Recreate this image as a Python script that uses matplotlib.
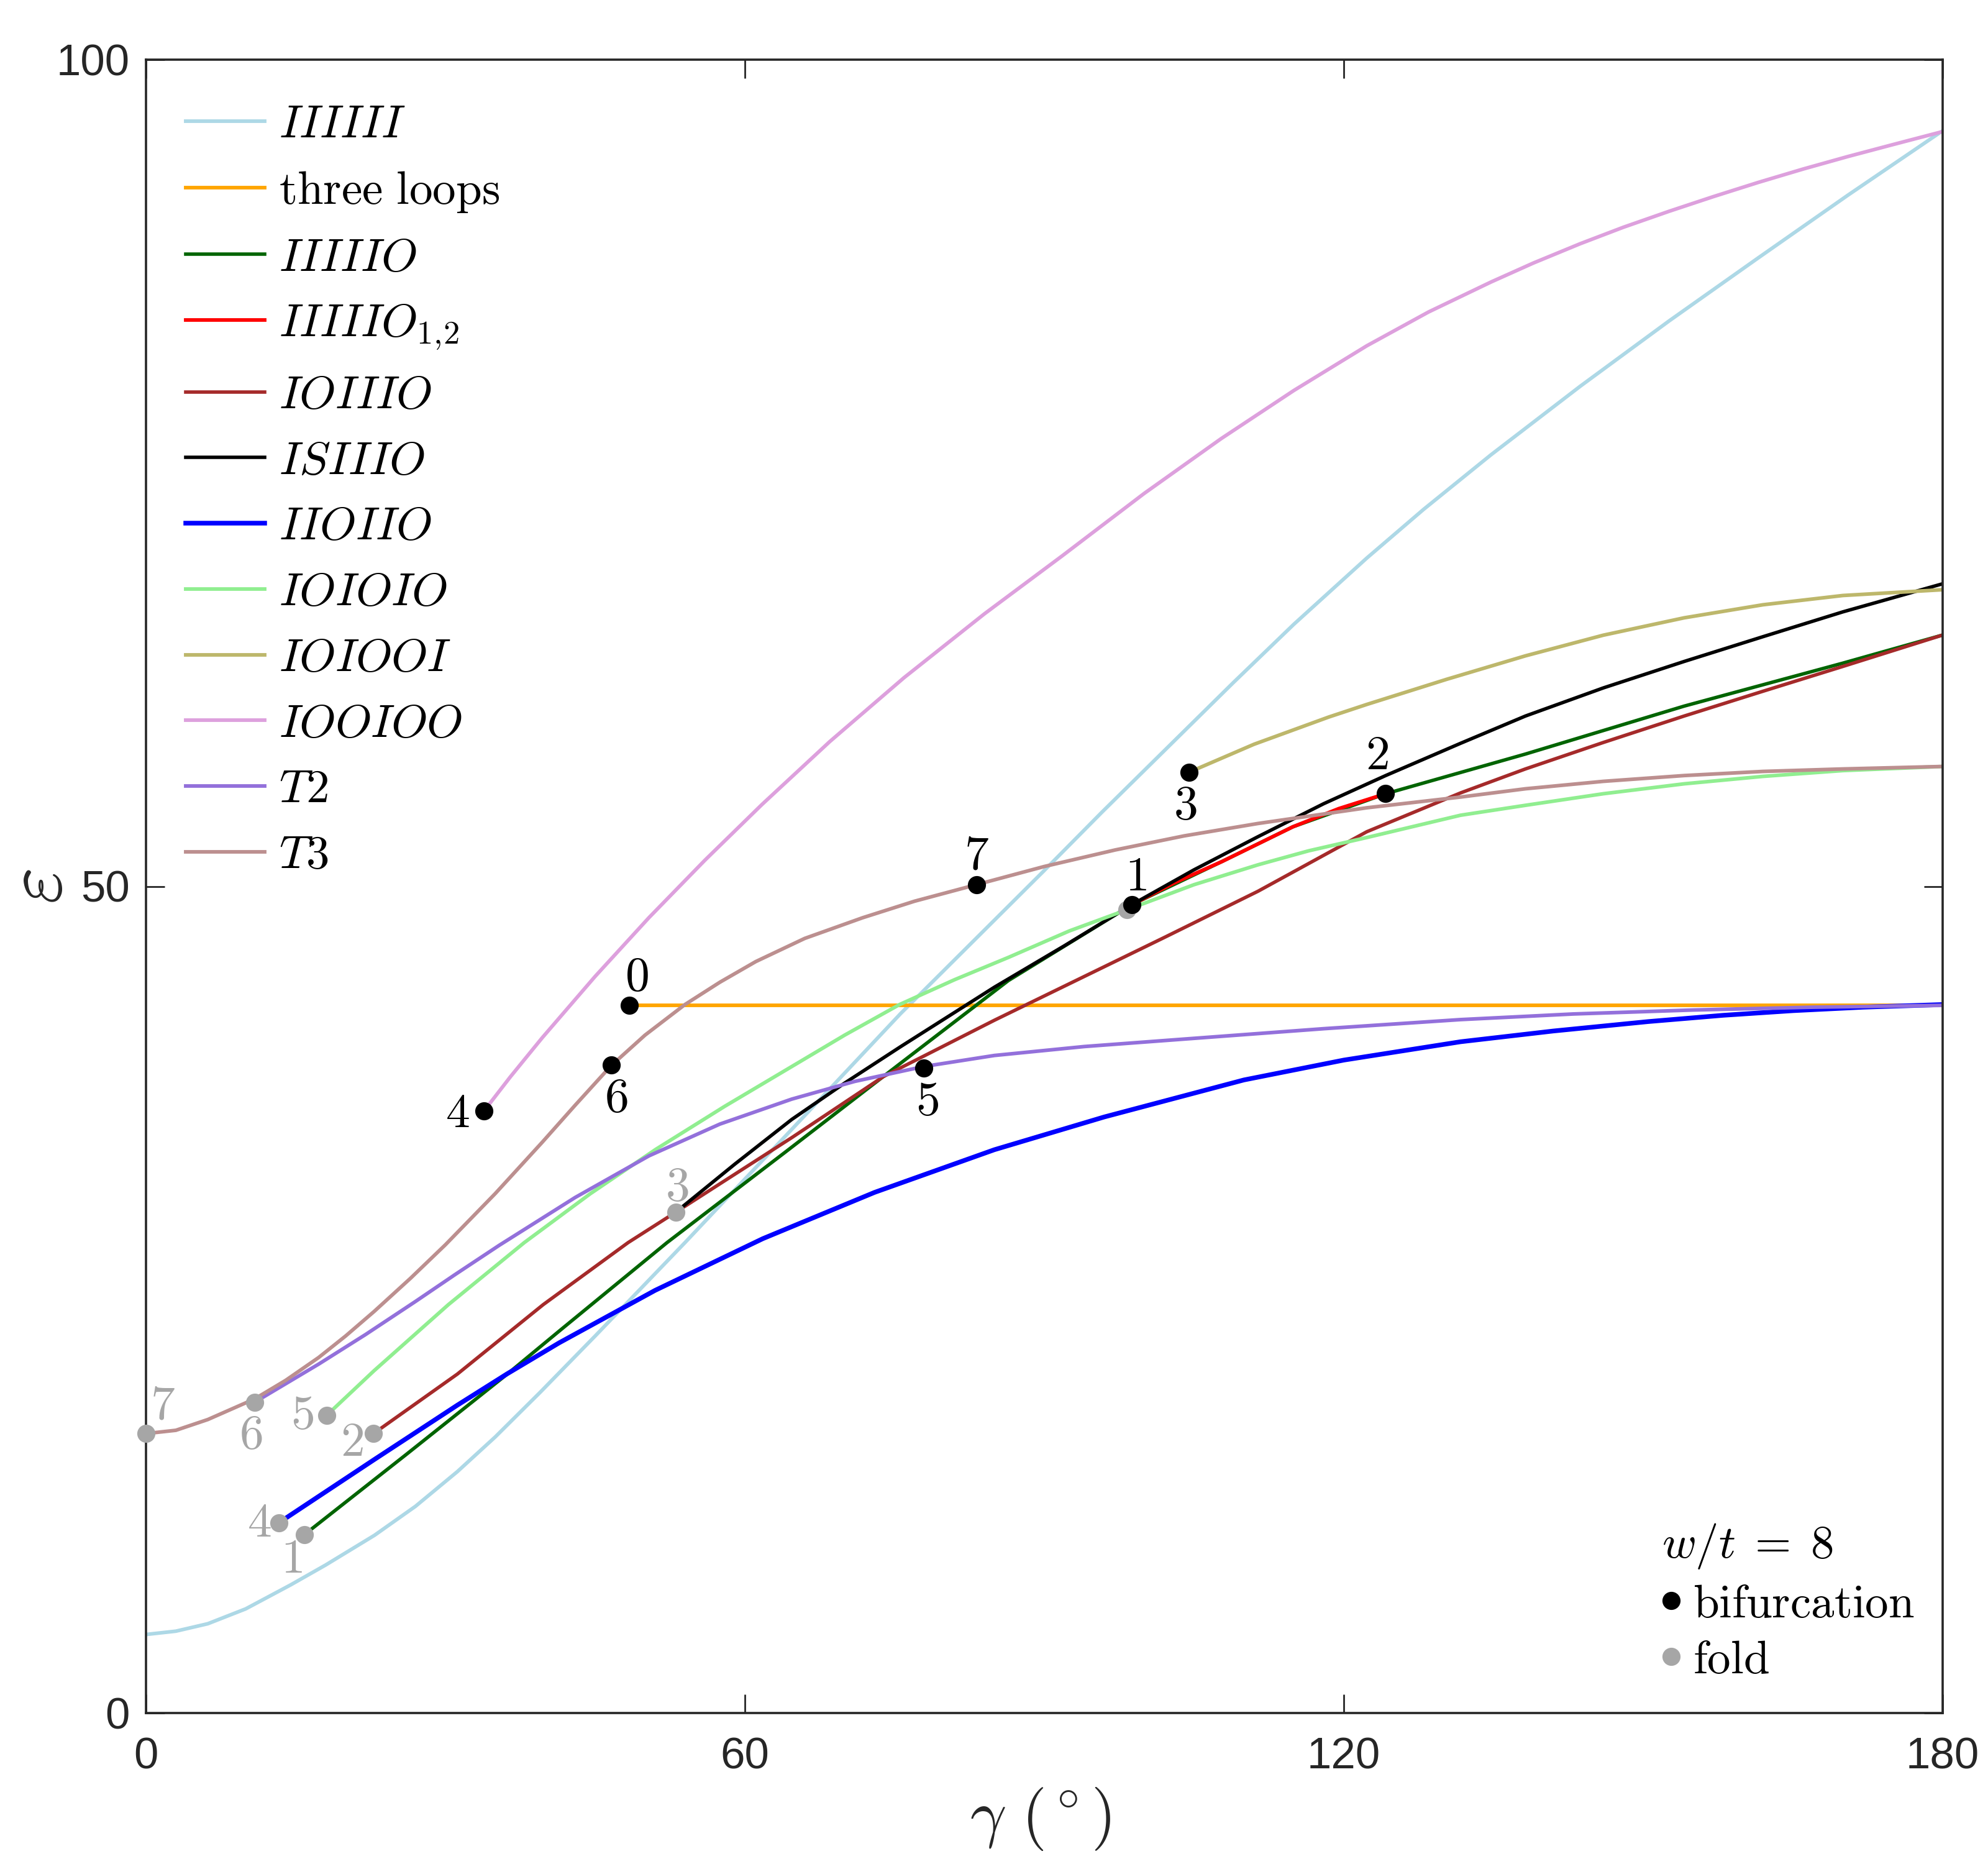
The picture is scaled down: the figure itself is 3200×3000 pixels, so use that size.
import matplotlib
matplotlib.use('Agg')
import matplotlib.pyplot as plt
from matplotlib.lines import Line2D

plt.rcParams['font.family'] = ['Liberation Sans', 'DejaVu Sans']
plt.rcParams['mathtext.fontset'] = 'cm'

# branch data: gamma (deg) and epsilon
iiiiii_g = [0, 3, 6.2, 10, 14.5, 18, 22.9, 27, 31.2, 35, 39.5, 45, 54.0, 64.7, 75.6, 89.9,
            95.8, 108.9, 115, 122.3, 128, 134.75, 143.7, 152.6, 161.5, 170.5, 180]
iiiiii_e = [4.75, 4.95, 5.4, 6.3, 7.75, 8.95, 10.75, 12.5, 14.6, 16.7, 19.4, 22.8, 28.45, 35.3,
            42.3, 50.9, 54.5, 62.3, 65.85, 69.85, 72.8, 76.1, 80.25, 84.2, 88.0, 91.8, 95.7]

loops_g = [48.4, 180]
loops_e = [42.8, 42.8]

iiiiio_g = [15.9, 26, 36.2, 41.4, 52.2, 64, 75.6, 86.4, 98.8, 107.8, 114.9, 124.2, 138.2,
            154.1, 170.0, 180]
iiiiio_e = [10.8, 15.6, 20.5, 23.1, 28.45, 33.9, 39.3, 44.3, 48.9, 51.5, 53.6, 55.6, 58.0,
            60.9, 63.5, 65.2]

iiiiio12_g = [98.8, 103, 107.8, 114.9, 119.5, 124.2]
iiiiio12_e = [48.9, 50.2, 51.5, 53.6, 54.7, 55.6]

ioiiio_g = [22.8, 31.2, 39.8, 48.3, 53.1, 64.7, 73.9, 85.0, 93.5, 102, 111.4, 122.3, 131.7,
            138.2, 146, 154.1, 162, 170.0, 180]
ioiiio_e = [16.9, 20.5, 24.7, 28.45, 30.3, 34.8, 38.5, 41.9, 44.4, 46.9, 49.7, 53.3, 55.65,
            57.1, 58.7, 60.3, 61.8, 63.3, 65.2]

isiiio_g = [53.1, 59, 64.7, 70, 75.6, 85.0, 92, 98.8, 105, 111.4, 118, 124.2, 131.7, 138.2,
            146, 154.1, 162, 170.0, 180]
isiiio_e = [30.3, 33.2, 35.9, 38.1, 40.3, 43.9, 46.4, 48.9, 51.0, 53.0, 55.0, 56.7, 58.65,
            60.3, 62.0, 63.6, 65.1, 66.6, 68.3]

iioiio_g = [13.3, 22.85, 31.2, 36.2, 41.4, 51, 61.8, 73, 85.0, 96.0, 110, 120, 131.7, 141,
            150.5, 158, 165.0, 172, 180]
iioiio_e = [11.5, 15.32, 18.62, 20.52, 22.39, 25.56, 28.69, 31.49, 34.07, 36.05, 38.29, 39.49,
            40.6, 41.25, 41.82, 42.2, 42.48, 42.69, 42.85]

ioioio_g = [18.1, 22.85, 30.3, 37.9, 44.5, 51.1, 58, 64.7, 70, 75.5, 81, 86.4, 92.5, 98.8,
            105, 111.4, 116.5, 122.3, 131.7, 138.2, 146, 154.1, 162, 170.0, 180]
ioioio_e = [18.0, 20.7, 24.7, 28.45, 31.4, 34.1, 36.7, 39.1, 41.0, 42.85, 44.35, 45.7, 47.3,
            48.7, 50.1, 51.3, 52.15, 52.95, 54.3, 54.9, 55.6, 56.2, 56.65, 57.0, 57.25]

ioiooi_g = [104.5, 111, 118.5, 122.3, 130.3, 138.2, 146, 154.1, 162, 170.0, 180]
ioiooi_e = [56.9, 58.59, 60.24, 61.0, 62.52, 63.94, 65.19, 66.24, 67.03, 67.59, 67.94]

iooioo_g = [33.85, 36.5, 39.7, 45, 50.4, 56, 61.7, 68.5, 75.95, 84, 91.8, 100, 107.7, 115,
            122.3, 128.5, 134.75, 139, 143.7, 148, 152.6, 157, 161.5, 166, 170.5, 175, 180]
iooioo_e = [36.4, 38.47, 40.84, 44.55, 48.11, 51.58, 54.94, 58.75, 62.62, 66.48, 69.99, 73.76,
            77.07, 79.99, 82.69, 84.74, 86.55, 87.7, 88.87, 89.86, 90.83, 91.71, 92.57, 93.38,
            94.14, 94.86, 95.65]

t2_g = [10.9, 17.3, 22, 27.0, 31, 35.4, 43, 50.4, 57.5, 64.7, 71, 77.9, 85.0, 94, 104.2,
        118, 131.7, 143, 155.0, 167, 180]
t2_e = [18.8, 21.1, 22.89, 24.89, 26.53, 28.29, 31.18, 33.7, 35.62, 37.13, 38.2, 39.1, 39.77,
        40.31, 40.77, 41.39, 41.94, 42.28, 42.52, 42.69, 42.8]

t3_g = [0, 3, 6.2, 10.9, 14, 17.3, 20, 22.85, 26.5, 30.0, 35, 39.7, 43, 46.6, 50, 54.0,
        57.5, 61.1, 66, 71.8, 77, 83.2, 90, 97.1, 104, 111.4, 122.3, 131.7, 138.2, 146,
        154.1, 162, 170.0, 180]
t3_e = [16.9, 17.1, 17.75, 19.0, 20.12, 21.5, 22.8, 24.28, 26.29, 28.32, 31.42, 34.52, 36.76,
        39.15, 41.0, 42.85, 44.2, 45.45, 46.85, 48.1, 49.1, 50.1, 51.2, 52.2, 53.05, 53.8,
        54.75, 55.4, 55.9, 56.35, 56.7, 56.95, 57.1, 57.25]

# special points
bif_id = [0, 1, 2, 3, 4, 5, 6, 7]
bif_g = [48.4, 98.8, 124.2, 104.5, 33.85, 77.9, 46.6, 83.2]
bif_e = [42.8, 48.9, 55.6, 56.9, 36.4, 39.0, 39.2, 50.1]

fold_id = [1, 2, 3, 4, 5, 6, 7, None]
fold_g = [15.9, 22.8, 53.1, 13.3, 18.1, 10.9, 0, 98.3]
fold_e = [10.8, 16.9, 30.3, 11.5, 18.0, 18.8, 16.9, 48.6]

# label offsets (points)
bif_off = [(4.4, 16), (2.2, 15.5), (-5, 21.5), (-2.2, -19.5), (-15.4, -2), (2.2, -19.5), (2.9, -19.5), (0, 16.5)]
fold_off = [(-7.7, -14.8), (-12.4, -5.4), (0.7, 14.2), (-11.2, -0.6), (-14.1, 0), (-2.4, -19.5), (9.8, 16), None]

fold_col = '#A6A6A6'
dark = '#262626'

branches = [
    (r'$IIIIII$', iiiiii_g, iiiiii_e, '#ADD8E6', 2.1),
    (r'$\mathrm{three\ loops}$', loops_g, loops_e, '#FFA500', 2.1),
    (r'$IIIIIO$', iiiiio_g, iiiiio_e, '#006400', 2.0),
    (r'$IIIIIO_{1,\!2}$', iiiiio12_g, iiiiio12_e, '#FF0000', 2.1),
    (r'$IOIIIO$', ioiiio_g, ioiiio_e, '#A52A2A', 2.0),
    (r'$ISIIIO$', isiiio_g, isiiio_e, '#000000', 2.0),
    (r'$IIOIIO$', iioiio_g, iioiio_e, '#0000FF', 2.7),
    (r'$IOIOIO$', ioioio_g, ioioio_e, '#90EE90', 2.1),
    (r'$IOIOOI$', ioiooi_g, ioiooi_e, '#BDB76B', 2.1),
    (r'$IOOIOO$', iooioo_g, iooioo_e, '#DDA0DD', 2.1),
    (r'$T2$', t2_g, t2_e, '#9370DB', 2.1),
    (r'$T3$', t3_g, t3_e, '#BC8F8F', 2.1),
]

fig = plt.figure(figsize=(16, 15), dpi=200)
ax = fig.add_axes([0.0734, 0.081, 0.9038, 0.887])

for label, g, e, col, lw in branches:
    ax.plot(g, e, color=col, lw=lw, label=label, solid_joinstyle='round')

ax.plot(fold_g, fold_e, 'o', color=fold_col, ms=9.5, zorder=5, clip_on=False)
ax.plot(bif_g, bif_e, 'o', color='k', ms=9.5, zorder=6, clip_on=False)

for n, g, e, off in zip(bif_id, bif_g, bif_e, bif_off):
    ax.annotate('$%d$' % n, (g, e), xytext=off, textcoords='offset points',
                ha='center', va='center', fontsize=28, color='k')
for n, g, e, off in zip(fold_id, fold_g, fold_e, fold_off):
    if n is None:
        continue
    ax.annotate('$%d$' % n, (g, e), xytext=off, textcoords='offset points',
                ha='center', va='center', fontsize=28, color=fold_col)

ax.set_xlim(0, 180)
ax.set_ylim(0, 100)
ax.set_xticks([0, 60, 120, 180])
ax.set_yticks([0, 50, 100])
ax.tick_params(direction='in', top=True, right=True, length=10.8, width=1.0,
               labelsize=25.5, colors=dark)
ax.tick_params(axis='x', pad=14)
ax.tick_params(axis='y', pad=9.4)
for s in ax.spines.values():
    s.set_color(dark)
    s.set_linewidth(1.3)

ax.set_xlabel(r'$\gamma\ (^\circ)$', fontsize=37, color=dark)
ax.xaxis.set_label_coords(0.498, -0.044)
ax.set_ylabel(r'$\varepsilon$', fontsize=46, color=dark)
ax.yaxis.set_label_coords(-0.038, 0.5)

leg1 = ax.legend(loc='upper left', bbox_to_anchor=(0.0221, 0.9733), frameon=False,
                 fontsize=27, handlelength=1.7, handletextpad=0.3,
                 labelspacing=0.49, borderpad=0, borderaxespad=0)
ax.add_artist(leg1)

pt_handles = [Line2D([], [], ls='none', marker='o', color='k', ms=9.5),
              Line2D([], [], ls='none', marker='o', color=fold_col, ms=9.5)]
ax.legend(pt_handles, [r'$\mathrm{bifurcation}$', r'$\mathrm{fold}$'],
          title=r'$w/t\;=\;8$', title_fontsize=27, alignment='left',
          loc='lower left', bbox_to_anchor=(0.8437, 0.0186), frameon=False,
          fontsize=27, handlelength=0.4, handletextpad=0.27,
          labelspacing=0.28, borderpad=0, borderaxespad=0)

fig.savefig('out.png', dpi=200)
